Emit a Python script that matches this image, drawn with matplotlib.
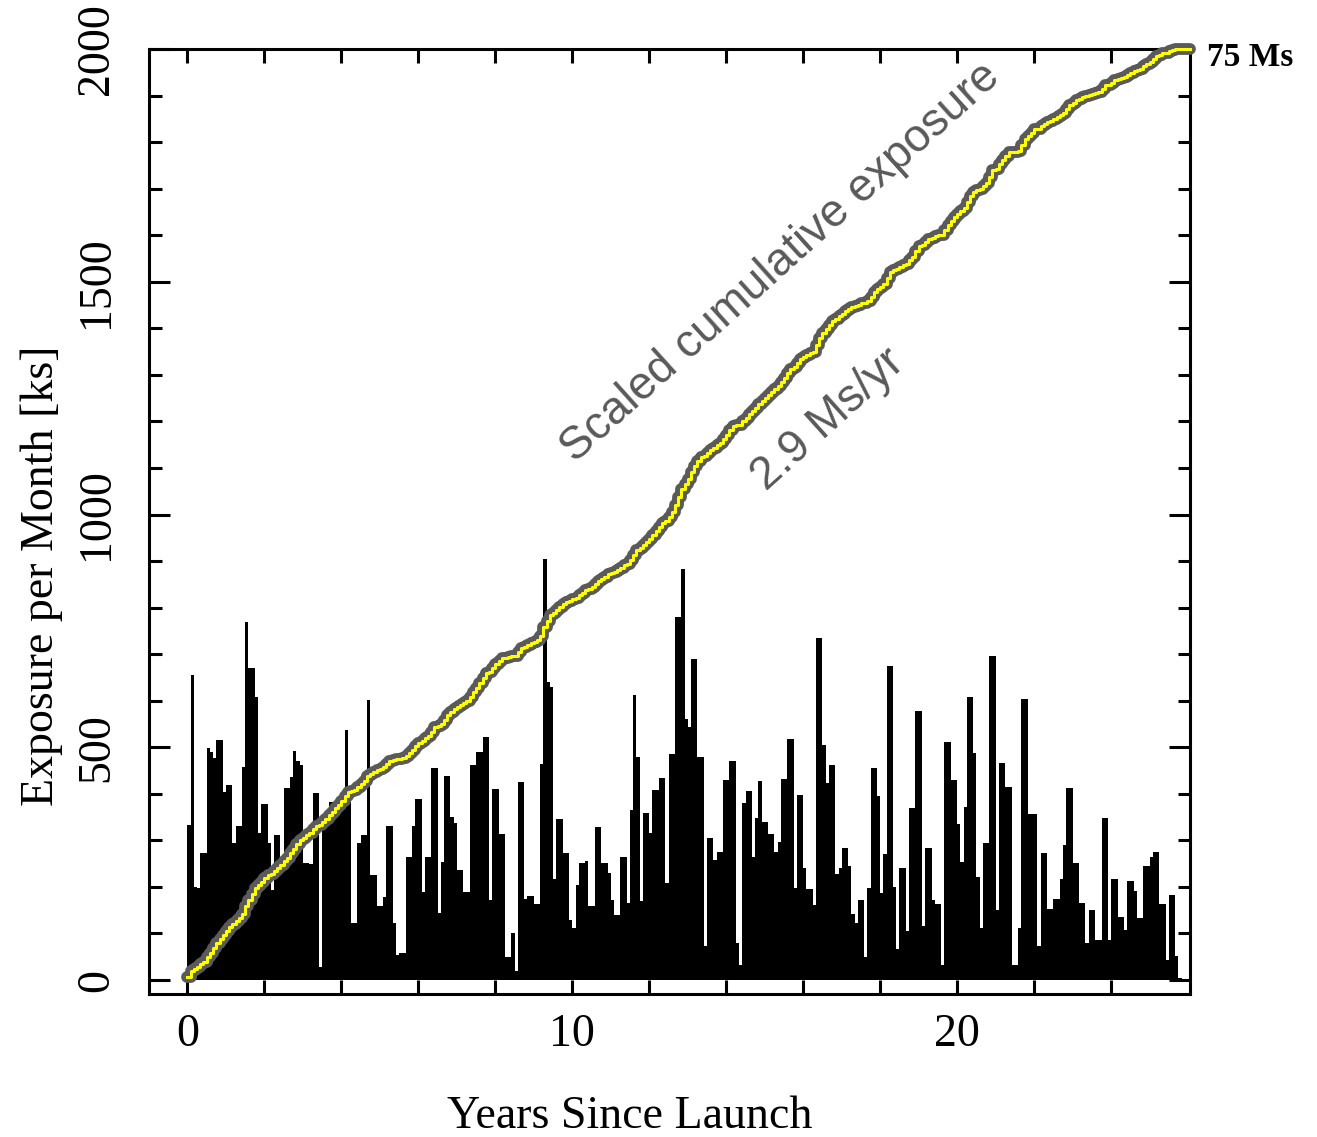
import numpy as np
import matplotlib
matplotlib.use("Agg")
import matplotlib.pyplot as plt

# monthly exposure [ks], month 0 = launch
exposure_ks = [
    333, 655, 200, 197, 272, 272, 498, 490, 476, 516, 516, 403, 419, 419, 294, 330,
    330, 458, 770, 670, 670, 609, 315, 378, 378, 294, 193, 312, 312, 258, 412, 412,
    437, 491, 470, 462, 251, 251, 250, 401, 401, 29, 330, 330, 383, 383, 383, 383,
    383, 537, 390, 122, 122, 295, 312, 312, 602, 226, 226, 158, 158, 179, 330, 330,
    123, 54, 57, 57, 265, 265, 331, 388, 388, 190, 265, 265, 455, 455, 143, 254,
    438, 438, 351, 338, 236, 236, 190, 190, 462, 462, 489, 489, 523, 523, 172, 410,
    410, 314, 314, 50, 50, 100, 20, 426, 426, 173, 180, 180, 163, 163, 464, 904,
    640, 629, 216, 345, 345, 272, 272, 129, 111, 204, 252, 252, 256, 158, 158, 328,
    328, 251, 251, 229, 172, 140, 140, 264, 264, 165, 365, 612, 480, 170, 358, 358,
    315, 408, 408, 433, 433, 208, 485, 485, 779, 779, 883, 560, 543, 689, 689, 480,
    480, 72, 306, 306, 258, 274, 274, 430, 430, 471, 471, 79, 32, 380, 405, 405,
    265, 347, 428, 340, 340, 313, 313, 274, 297, 431, 431, 517, 517, 198, 397, 397,
    240, 195, 195, 161, 734, 734, 505, 424, 461, 461, 228, 240, 283, 283, 244, 142,
    122, 172, 172, 50, 197, 455, 455, 395, 186, 270, 675, 675, 200, 66, 240, 240,
    106, 369, 369, 577, 577, 115, 283, 283, 172, 163, 163, 32, 512, 512, 430, 430,
    335, 254, 372, 607, 607, 487, 222, 111, 294, 294, 695, 695, 150, 466, 466, 415,
    415, 32, 32, 112, 603, 603, 356, 356, 356, 73, 272, 272, 152, 152, 175, 175,
    218, 289, 413, 413, 251, 251, 165, 165, 80, 150, 150, 86, 86, 349, 349, 87,
    217, 217, 135, 135, 107, 213, 213, 191, 133, 133, 244, 244, 265, 276, 276, 163,
    163, 43, 183, 183, 52, 5,
]
total_label = "75 Ms"
rate_label = "2.9 Ms/yr"
curve_label = "Scaled cumulative exposure"
x_ticks = [0, 10, 20]
y_ticks = [0, 500, 1000, 1500, 2000]
scale_top = 2000

exposure = np.array(exposure_ks, dtype=float)
years = np.arange(len(exposure)) / 12.0
cum = np.cumsum(exposure)
cum = cum / cum[-1] * scale_top

serif = ["Liberation Serif", "DejaVu Serif"]
sans = ["Liberation Sans", "DejaVu Sans"]

fig = plt.figure(figsize=(13.17, 11.37), dpi=100)
ax = fig.add_axes([0.1131, 0.1258, 0.7905, 0.8311])

ax.bar(years, exposure, width=1 / 12.0, align="edge", color="black",
       linewidth=0, zorder=2)

# cumulative curve, gray casing with yellow core
xs = np.append(years, 26.05)
ys = np.append(cum, cum[-1])
ax.step(xs, ys, where="post", color="#5a5a5a", lw=8.5, solid_capstyle="round",
        solid_joinstyle="round", zorder=3, clip_on=False)
ax.step(xs, ys, where="post", color="#ffff00", lw=2.2, zorder=4, clip_on=False)

ax.set_xlim(-1, 26.05)
ax.set_ylim(-30, 2000)

ax.set_xticks(x_ticks)
ax.set_xticks(np.arange(0, 26, 2), minor=True)
ax.set_yticks(y_ticks)
ax.set_yticks(np.arange(0, 2001, 100), minor=True)

ax.tick_params(axis="both", which="both", direction="in", top=True, right=True,
               width=2.2, color="black")
ax.tick_params(axis="x", which="both", length=10, pad=14)
ax.tick_params(axis="y", which="major", length=15, pad=22)
ax.tick_params(axis="y", which="minor", length=9)
ax.tick_params(axis="both", labelsize=33)
for lab in ax.get_xticklabels():
    lab.set_family(serif)
for lab in ax.get_yticklabels():
    lab.set_family(serif)
    lab.set_rotation(90)
    lab.set_va("center")

for sp in ax.spines.values():
    sp.set_linewidth(2.2)

ax.set_xlabel("Years Since Launch", fontsize=33, family=serif)
ax.set_ylabel("Exposure per Month [ks]", fontsize=33, family=serif)
ax.xaxis.set_label_coords(0.462, -0.107)
ax.yaxis.set_label_coords(-0.083, 0.443)

ax.text(15.4, 1542, curve_label, rotation=42, rotation_mode="anchor",
        ha="center", va="center", fontsize=33, color="#595959", family=sans,
        zorder=5)
ax.text(16.65, 1203, rate_label, rotation=42, rotation_mode="anchor",
        ha="center", va="center", fontsize=33, color="#595959", family=sans,
        zorder=5)
ax.text(26.5, 2000 - 18, total_label, ha="left", va="center", fontsize=24,
        fontweight="bold", family=serif, clip_on=False)

fig.savefig("out.png", dpi=100)
